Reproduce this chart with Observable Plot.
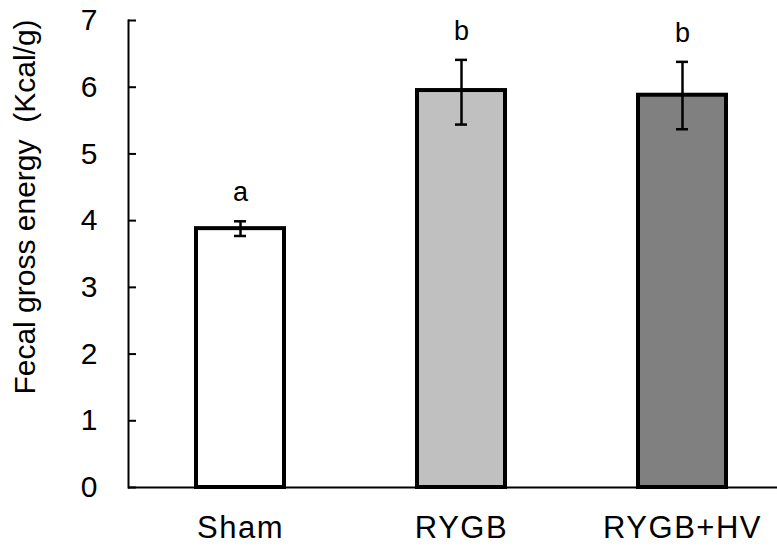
<!DOCTYPE html>
<html>
<head>
<meta charset="utf-8">
<script src="https://cdn.jsdelivr.net/npm/d3@7"></script>
<script src="https://cdn.jsdelivr.net/npm/@observablehq/plot@0.6"></script>
<style>
  html, body { margin: 0; padding: 0; background: #ffffff; }
  #chart svg { display: block; }
  #chart svg g[aria-label="x-axis tick label"] text { letter-spacing: 1.5px; }
</style>
</head>
<body>
<div id="chart"></div>
<script>
const groups = ["Sham", "RYGB", "RYGB+HV"];
const means = [3.88, 5.95, 5.88];
const errLow = [3.77, 5.44, 5.37];
const errHigh = [3.99, 6.41, 6.38];
const letters = ["a", "b", "b"];
const yTicks = [0, 1, 2, 3, 4, 5, 6, 7];
const yLabel = "Fecal gross energy  (Kcal/g)";

const data = groups.map((g, i) => ({
  group: g, mean: means[i], lo: errLow[i], hi: errHigh[i], letter: letters[i]
}));

const font = "'Liberation Sans', Arial, Helvetica, sans-serif";

const chart = Plot.plot({
  width: 777,
  height: 548,
  marginTop: 20,
  marginBottom: 61,
  marginLeft: 128,
  marginRight: 0,
  style: { fontFamily: font, background: "#ffffff", color: "#000000" },
  x: { domain: groups, range: [195, 726], paddingInner: 0.603, paddingOuter: 0 },
  y: { domain: [0, 7] },
  color: { domain: groups, range: ["#ffffff", "#c0c0c0", "#808080"] },
  marks: [
    Plot.barY(data, { x: "group", y: "mean", fill: "group", stroke: "#000000", strokeWidth: 4 }),
    Plot.frame({ anchor: "left", stroke: "#000000", strokeWidth: 2 }),
    Plot.ruleY([0], { stroke: "#000000", strokeWidth: 2 }),
    Plot.ruleX(data, { x: "group", y1: "lo", y2: "hi", stroke: "#000000", strokeWidth: 2.5 }),
    Plot.tickY(data, { x: "group", y: "lo", stroke: "#000000", strokeWidth: 2.5, insetLeft: 38, insetRight: 38 }),
    Plot.tickY(data, { x: "group", y: "hi", stroke: "#000000", strokeWidth: 2.5, insetLeft: 38, insetRight: 38 }),
    Plot.text(data, { x: "group", y: "hi", text: "letter", dy: -29, fontSize: 27, fill: "#000000" }),
    Plot.axisY({ ticks: yTicks, tickFormat: d => String(d), tickSize: -8, tickPadding: 39, fontSize: 30, label: null, stroke: "#000000", strokeWidth: 2 }),
    Plot.axisX({ tickSize: 0, tickPadding: 28, fontSize: 31, label: null }),
    Plot.text([yLabel], { frameAnchor: "left", textAnchor: "middle", rotate: -90, dx: -103, dy: -47, fontSize: 30, fill: "#000000" })
  ]
});

document.getElementById("chart").appendChild(chart);
</script>
</body>
</html>
